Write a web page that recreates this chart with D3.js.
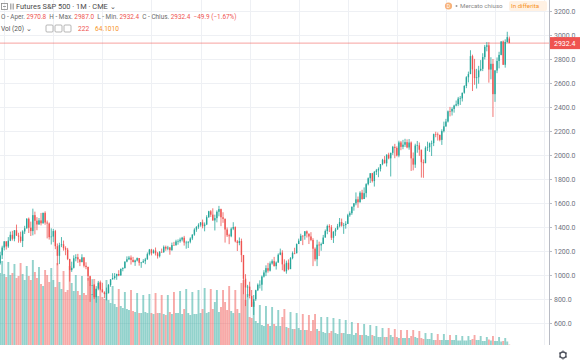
<!DOCTYPE html>
<html lang="it">
<head>
<meta charset="UTF-8">
<title>Futures S&P 500 · 1M · CME</title>
<script src="https://d3js.org/d3.v7.min.js"></script>
<style>
  body { margin: 0; background: #fff; font-family: Roboto, "Open Sans", sans-serif; }
  svg { display: block; }
  .grid line { stroke: #eef0f4; }
  .axis text { fill: #6f7380; font-size: 7px; font-family: Roboto, sans-serif; }
  .axis line, .axis path { stroke: #b8bbc4; }
</style>
</head>
<body>
<div id="chart"></div>
<script>
// monthly bars, first bar = Nov 1998
const startYear = 1998, startMonth = 10;

const opens = [1098,1164,
  1229,1280,1238,1286,1335,1302,1373,1329,1320,1283,1363,1389,
  1469,1394,1366,1499,1452,1421,1455,1431,1518,1437,1429,1315,
  1320,1366,1240,1160,1249,1256,1224,1211,1134,1041,1060,1139,
  1148,1130,1107,1147,1077,1067,990,912,916,815,886,936,
  880,856,841,848,917,964,975,990,1008,996,1051,1058,
  1112,1131,1145,1126,1107,1121,1141,1102,1104,1115,1130,1174,
  1212,1181,1204,1181,1157,1192,1191,1234,1220,1229,1207,1249,
  1248,1280,1281,1295,1311,1270,1270,1277,1304,1336,1378,1401,
  1418,1438,1407,1421,1482,1531,1503,1455,1474,1527,1549,1481,
  1468,1379,1331,1323,1386,1400,1280,1267,1283,1166,969,896,
  903,826,735,798,873,919,919,987,1021,1057,1036,1096,
  1115,1074,1104,1169,1187,1089,1031,1102,1049,1141,1183,1181,
  1258,1286,1327,1326,1364,1345,1321,1292,1219,1131,1253,1247,
  1258,1312,1366,1408,1398,1310,1362,1379,1407,1441,1412,1416,
  1426,1498,1515,1569,1598,1631,1606,1686,1633,1682,1757,1806,
  1848,1783,1859,1872,1884,1924,1960,1931,2003,1972,2018,2068,
  2059,1995,2105,2068,2086,2107,2063,2104,1972,1920,2079,2080,
  2044,1940,1932,2060,2065,2097,2099,2174,2171,2168,2126,2199,
  2239,2279,2364,2363,2384,2412,2423,2470,2472,2519,2575,2648,
  2674,2824,2714,2641,2648,2705,2718,2816,2902,2914,2712,2760,
  2507,2704,2784,2834,2946,2752,2942,2970.8];

const highs = [1193,1244,
  1283,1282,1316,1362,1368,1373,1420,1352,1361,1373,1410,1473,
  1479,1445,1553,1528,1482,1475,1517,1519,1531,1454,1438,1389,
  1384,1376,1263,1269,1316,1287,1239,1226,1134,1111,1164,1173,
  1176,1131,1173,1147,1106,1070,994,965,925,907,951,954,
  935,864,895,924,965,1015,1016,1011,1040,1054,1064,1112,
  1155,1159,1163,1151,1128,1146,1141,1109,1132,1143,1188,1217,
  1218,1213,1229,1192,1200,1220,1246,1245,1243,1234,1270,1276,
  1294,1297,1311,1318,1326,1285,1281,1314,1340,1390,1407,1431,
  1441,1462,1438,1498,1535,1541,1556,1503,1539,1576,1553,1523,
  1471,1396,1344,1397,1440,1405,1292,1313,1303,1167,1007,918,
  944,875,833,877,930,956,996,1040,1081,1101,1113,1130,
  1151,1113,1180,1220,1206,1131,1120,1130,1149,1196,1227,1263,
  1303,1344,1332,1366,1371,1345,1357,1307,1230,1293,1278,1270,
  1334,1379,1420,1423,1416,1364,1392,1426,1475,1470,1434,1448,
  1510,1530,1570,1598,1688,1654,1698,1710,1730,1765,1813,1849,
  1851,1867,1884,1897,1925,1968,1991,2005,2019,2019,2076,2093,
  2072,2119,2117,2126,2135,2130,2133,2113,2021,2094,2117,2104,
  2044,1963,2073,2111,2104,2120,2178,2194,2188,2169,2214,2278,
  2301,2371,2401,2398,2419,2454,2484,2491,2519,2582,2657,2695,
  2873,2836,2801,2718,2743,2791,2848,2917,2941,2940,2815,2800,
  2708,2813,2860,2949,2954,2964,3027,2987];

const lows = [1086,1133,
  1205,1212,1226,1282,1287,1281,1325,1269,1269,1233,1342,1387,
  1350,1325,1330,1339,1373,1419,1413,1428,1419,1305,1295,1254,
  1274,1215,1081,1091,1232,1203,1165,1124,945,1026,1054,1114,
  1101,1074,1107,1063,1048,953,776,833,800,769,873,872,
  855,807,789,847,902,962,962,960,990,996,1031,1054,
  1106,1124,1087,1107,1076,1113,1078,1060,1102,1090,1128,1163,
  1163,1180,1163,1137,1146,1188,1184,1202,1206,1169,1202,1246,
  1245,1253,1269,1280,1245,1219,1225,1264,1291,1327,1360,1385,
  1403,1389,1364,1416,1476,1484,1452,1371,1439,1489,1407,1435,
  1270,1317,1257,1315,1374,1272,1200,1248,1107,840,741,815,
  805,734,667,784,866,888,869,979,991,1020,1029,1086,
  1071,1045,1102,1165,1040,1029,1011,1040,1049,1131,1173,1181,
  1258,1283,1249,1294,1312,1258,1282,1074,1114,1074,1158,1202,
  1258,1312,1340,1358,1292,1267,1326,1378,1397,1403,1343,1386,
  1426,1485,1501,1536,1581,1560,1604,1627,1633,1647,1747,1767,
  1771,1737,1834,1815,1863,1915,1930,1904,1964,1821,2001,1973,
  1988,1981,2040,2048,2067,2056,2044,1867,1872,1893,2019,1993,
  1812,1810,1932,2034,2026,1992,2074,2148,2120,2114,2084,2188,
  2234,2271,2322,2329,2353,2405,2407,2417,2446,2511,2557,2605,
  2674,2533,2585,2554,2594,2698,2699,2796,2864,2603,2631,2317,
  2443,2682,2722,2831,2750,2728,2935,2932.4];

const closes = [1164,1229,
  1280,1238,1286,1335,1302,1373,1329,1320,1283,1363,1389,1469,
  1394,1366,1499,1452,1421,1455,1431,1518,1437,1429,1315,1320,
  1366,1240,1160,1249,1256,1224,1211,1134,1041,1060,1139,1148,
  1130,1107,1147,1077,1067,990,912,916,815,886,936,880,
  856,841,848,917,964,975,990,1008,996,1051,1058,1112,
  1131,1145,1126,1107,1121,1141,1102,1104,1115,1130,1174,1212,
  1181,1204,1181,1157,1192,1191,1234,1220,1229,1207,1249,1248,
  1280,1281,1295,1311,1270,1270,1277,1304,1336,1378,1401,1418,
  1438,1407,1421,1482,1531,1503,1455,1474,1527,1549,1481,1468,
  1379,1331,1323,1386,1400,1280,1267,1283,1166,969,896,903,
  826,735,798,873,919,919,987,1021,1057,1036,1096,1115,
  1074,1104,1169,1187,1089,1031,1102,1049,1141,1183,1181,1258,
  1286,1327,1326,1364,1345,1321,1292,1219,1131,1253,1247,1258,
  1312,1366,1408,1398,1310,1362,1379,1407,1441,1412,1416,1426,
  1498,1515,1569,1598,1631,1606,1686,1633,1682,1757,1806,1848,
  1783,1859,1872,1884,1924,1960,1931,2003,1972,2018,2068,2059,
  1995,2105,2068,2086,2107,2063,2104,1972,1920,2079,2080,2044,
  1940,1932,2060,2065,2097,2099,2174,2171,2168,2126,2199,2239,
  2279,2364,2363,2384,2412,2423,2470,2472,2519,2575,2648,2674,
  2824,2714,2641,2648,2705,2718,2816,2902,2914,2712,2760,2507,
  2704,2784,2834,2946,2752,2942,2982.3,2932.4];

// volume, thousands of contracts
const volumes = [1440,1680,
  1420,1360,1660,1400,1440,1620,1340,1380,1640,1420,1300,1580,
  1380,1300,1700,1460,1340,1560,1220,1180,1500,1400,1260,1540,
  1300,1160,1640,1260,1120,1480,1060,1100,1580,1240,1080,1400,
  1080,1000,1380,1040,1000,1340,1200,1020,1320,1120,980,1260,
  960,920,1300,900,840,1180,820,760,1120,780,740,1060,
  720,700,1100,680,660,1040,640,640,1000,660,640,1020,
  640,620,1040,640,640,1000,620,600,1000,660,620,1060,
  640,640,1080,620,720,1120,640,600,1060,620,620,1100,
  640,720,1140,640,660,1120,720,860,1100,660,760,1100,
  860,700,1180,680,640,1100,720,640,1240,1300,900,1020,
  560,540,860,480,440,800,400,380,780,420,380,760,
  420,380,700,380,560,720,360,340,660,320,320,640,
  340,300,620,300,300,600,280,500,620,320,280,560,
  260,240,560,240,280,540,240,220,520,240,240,500,
  220,220,460,200,240,440,200,200,420,200,180,400,
  200,180,380,160,160,340,160,160,340,200,160,320,
  160,140,300,140,140,300,140,180,300,160,140,280,
  140,120,240,120,120,240,100,100,220,100,100,220,
  100,100,200,100,100,200,90,90,180,90,90,180,
  100,120,200,100,100,180,80,80,160,110,90,180,
  80,80,160,70,80,140,70,8];

const priceTicks = [600,800,1000,1200,1400,1600,1800,2000,2200,2400,2600,2800,3000,3200];
const yearTicks = [1999,2001,2003,2005,2007,2009,2011,2013,2015,2017,2019,2021];
const lastPrice = 2932.4;

const W = 580, H = 363;
const plotR = 549, plotB = 345;
const upColor = "#26a69a", downColor = "#ef5350";

const bars = opens.map((o, i) => ({
  i: i,
  o: o, h: highs[i], l: lows[i], c: closes[i], v: volumes[i]
}));
const monthIndex = (y, m) => (y - startYear) * 12 + (m - startMonth);

const x = d3.scaleLinear()
  .domain([monthIndex(2001, 0), monthIndex(2019, 0)])
  .range([53.3, 495]);
const y = d3.scaleLinear().domain([416.7, 3291.7]).range([plotB, 0]);
const yVol = d3.scaleLinear().domain([0, 2000]).range([plotB, plotB - 100]);

const svg = d3.select("#chart").append("svg")
  .attr("width", W).attr("height", H);

svg.append("defs").append("clipPath").attr("id", "plotClip")
  .append("rect").attr("x", 0).attr("y", 0).attr("width", plotR).attr("height", plotB);

// grid
const grid = svg.append("g").attr("class", "grid");
grid.selectAll(".gx").data(yearTicks).enter().append("line")
  .attr("x1", d => Math.round(x(monthIndex(d, 0))) + 0.5)
  .attr("x2", d => Math.round(x(monthIndex(d, 0))) + 0.5)
  .attr("y1", 0).attr("y2", plotB)
  .attr("clip-path", "url(#plotClip)");
grid.selectAll(".gy").data(priceTicks).enter().append("line")
  .attr("x1", 0).attr("x2", plotR)
  .attr("y1", d => Math.round(y(d)) + 0.5)
  .attr("y2", d => Math.round(y(d)) + 0.5);

const plot = svg.append("g").attr("clip-path", "url(#plotClip)");

// volume
plot.selectAll(".vol").data(bars).enter().append("rect")
  .attr("x", d => x(d.i) - 0.95)
  .attr("width", 1.9)
  .attr("y", d => yVol(d.v))
  .attr("height", d => plotB - yVol(d.v))
  .attr("fill", d => d.c >= d.o ? upColor : downColor)
  .attr("fill-opacity", 0.5);

// price line
plot.append("line")
  .attr("x1", 0).attr("x2", plotR)
  .attr("y1", y(lastPrice)).attr("y2", y(lastPrice))
  .attr("stroke", downColor).attr("stroke-opacity", 0.55).attr("stroke-width", 1);

// candles
const candle = plot.selectAll(".candle").data(bars).enter().append("g");
candle.append("line")
  .attr("x1", d => x(d.i)).attr("x2", d => x(d.i))
  .attr("y1", d => y(d.h)).attr("y2", d => y(d.l))
  .attr("stroke", d => d.c >= d.o ? upColor : downColor)
  .attr("stroke-width", 0.8);
candle.append("rect")
  .attr("x", d => x(d.i) - 0.7)
  .attr("width", 1.4)
  .attr("y", d => y(Math.max(d.o, d.c)))
  .attr("height", d => Math.max(0.6, Math.abs(y(d.o) - y(d.c))))
  .attr("fill", d => d.c >= d.o ? upColor : downColor);

// axes
const yAxis = svg.append("g").attr("class", "axis")
  .attr("transform", `translate(${plotR},0)`)
  .call(d3.axisRight(y).tickValues(priceTicks).tickSize(3).tickPadding(2)
    .tickFormat(d3.format(".1f")));
yAxis.select(".domain").attr("d", `M0.5,0V${plotB}`);

svg.append("defs").append("clipPath").attr("id", "xClip")
  .append("rect").attr("x", 0).attr("y", plotB).attr("width", plotR).attr("height", H - plotB);
const xAxis = svg.append("g").attr("class", "axis")
  .attr("transform", `translate(0,${plotB + 0.5})`)
  .attr("clip-path", "url(#xClip)")
  .call(d3.axisBottom(x).tickValues(yearTicks.map(yr => monthIndex(yr, 0)))
    .tickSize(3).tickPadding(2)
    .tickFormat(i => startYear + Math.floor((i + startMonth) / 12)));
xAxis.select(".domain").attr("d", `M0,0H${plotR}`);

// last price label
svg.append("rect")
  .attr("x", plotR + 1).attr("y", y(lastPrice) - 6)
  .attr("width", W - plotR - 1).attr("height", 12)
  .attr("fill", downColor);
svg.append("text")
  .attr("x", plotR + 5).attr("y", y(lastPrice) + 2.5)
  .attr("fill", "#fff").attr("font-size", 7).attr("font-family", "Roboto, sans-serif")
  .text("2932.4");

// settings gear bottom right
const gear = svg.append("g").attr("transform", `translate(563,${plotB + 10})`)
  .attr("fill", "none").attr("stroke", "#4a4e59");
gear.append("circle").attr("r", 3).attr("stroke-width", 1.3);
[0, 60, 120, 180, 240, 300].forEach(a => gear.append("line")
  .attr("x1", 0).attr("x2", 0).attr("y1", -3.4).attr("y2", -4.4)
  .attr("stroke-width", 1.2).attr("transform", `rotate(${a})`));

// legend / header
const head = svg.append("g").attr("font-family", "Roboto, sans-serif");
head.append("rect").attr("x", 1.5).attr("y", 3.5).attr("width", 6).attr("height", 6)
  .attr("fill", "none").attr("stroke", "#888").attr("stroke-width", 0.8);
head.append("line").attr("x1", 3).attr("x2", 6).attr("y1", 6.5).attr("y2", 6.5)
  .attr("stroke", "#888").attr("stroke-width", 0.8);
[10, 11.6, 13.2].forEach(px => head.append("rect").attr("x", px).attr("y", 3.5)
  .attr("width", 0.8).attr("height", 6).attr("fill", "#9a9a9a"));
head.append("text").attr("x", 16).attr("y", 9).attr("font-size", 7.4).attr("fill", "#4a4a4a")
  .text("Futures S&P 500 · 1M · CME ⌄");

const ohlc = head.append("text").attr("x", 1).attr("y", 18.5).attr("font-size", 6.4).attr("fill", "#6a6a6a");
[["O - Aper. ", "2970.8"], ["  H - Max. ", "2987.0"], ["  L - Min. ", "2932.4"], ["  C - Chius. ", "2932.4"], ["  ", "−49.9 (−1.67%)"]]
  .forEach(([k, v]) => {
    ohlc.append("tspan").attr("xml:space", "preserve").text(k);
    ohlc.append("tspan").attr("fill", downColor).text(v);
  });

head.append("text").attr("x", 1).attr("y", 31).attr("font-size", 6.6).attr("fill", "#555")
  .text("Vol (20) ⌄");
[46, 55, 64].forEach(px => head.append("rect").attr("x", px).attr("y", 25)
  .attr("width", 7).attr("height", 7).attr("rx", 1)
  .attr("fill", "#fff").attr("stroke", "#9a9a9a").attr("stroke-width", 0.7));
head.append("text").attr("x", 78).attr("y", 31).attr("font-size", 6.6).attr("fill", downColor).text("222");
head.append("text").attr("x", 95).attr("y", 31).attr("font-size", 6.6).attr("fill", "#f7931e").text("64.1010");

// market status
const status = svg.append("g").attr("font-family", "Roboto, sans-serif");
status.append("circle").attr("cx", 448.5).attr("cy", 6).attr("r", 3.6).attr("fill", "#f7b27a");
status.append("text").attr("x", 448.5).attr("y", 8.2).attr("text-anchor", "middle")
  .attr("font-size", 5).attr("fill", "#fff").text("D");
status.append("circle").attr("cx", 456.5).attr("cy", 6).attr("r", 1).attr("fill", "#999");
status.append("text").attr("x", 460).attr("y", 8.3).attr("font-size", 6.2).attr("fill", "#888")
  .text("Mercato chiuso");
status.append("rect").attr("x", 509).attr("y", 1).attr("width", 38).attr("height", 10)
  .attr("rx", 2).attr("fill", "#fff1e3");
status.append("text").attr("x", 511).attr("y", 8.3).attr("font-size", 6.2).attr("fill", "#f7931e")
  .text("In differita");
</script>
</body>
</html>
